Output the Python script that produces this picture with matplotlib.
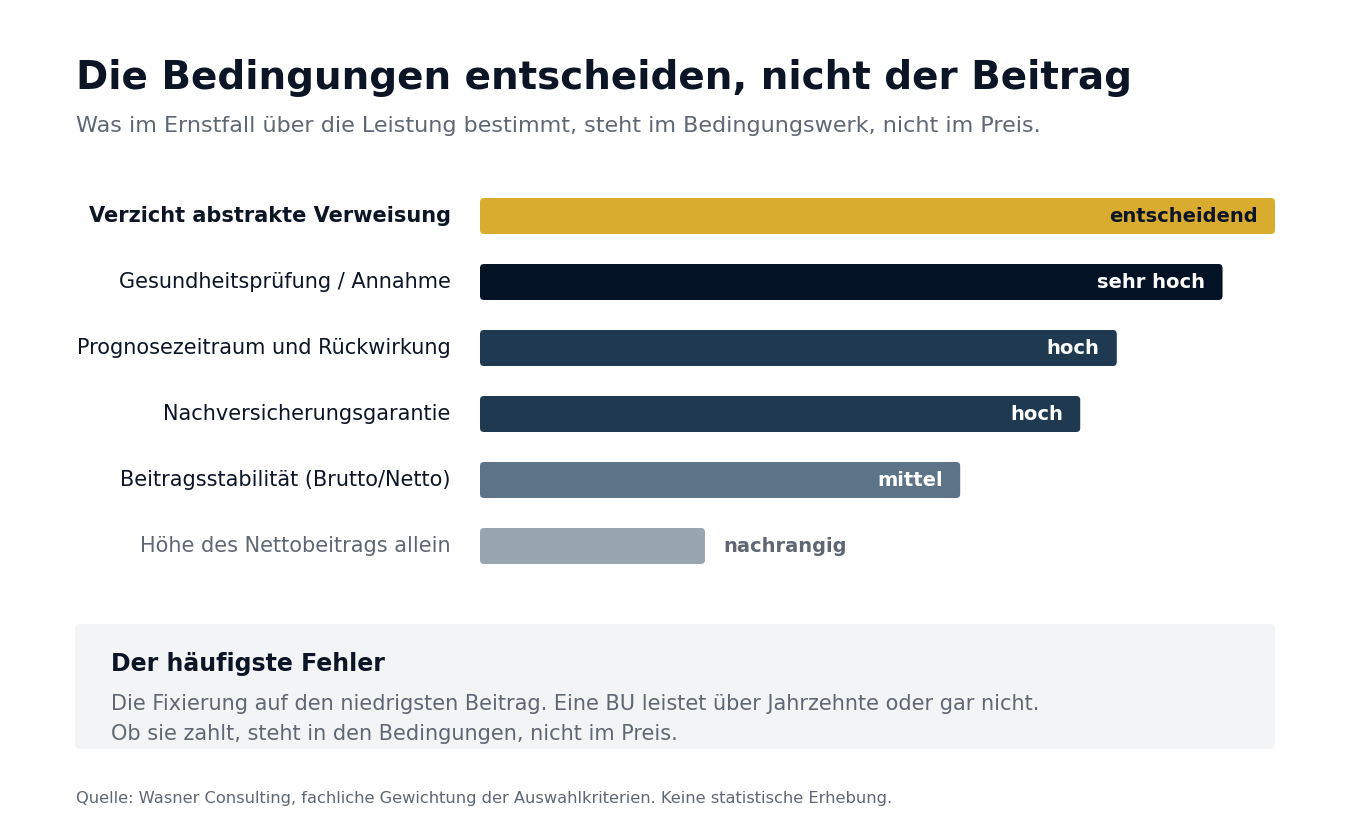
import matplotlib.pyplot as plt
import matplotlib
from matplotlib.patches import FancyBboxPatch

matplotlib.rcParams['font.family'] = ['DejaVu Sans']

W, H = 1350, 840

# --- data ---
criteria = ['Verzicht abstrakte Verweisung', 'Gesundheitsprüfung / Annahme',
            'Prognosezeitraum und Rückwirkung', 'Nachversicherungsgarantie',
            'Beitragsstabilität (Brutto/Netto)', 'Höhe des Nettobeitrags allein']
weights = [100, 93.4, 80.1, 75.5, 60.4, 28.3]
ratings = ['entscheidend', 'sehr hoch', 'hoch', 'hoch', 'mittel', 'nachrangig']

bar_colors = ['#D9AC2F', '#041226', '#1E3950', '#1E3950', '#5D7387', '#9AA6AF']
value_colors = ['#0B1525', 'white', 'white', 'white', 'white', '#5E6773']
dark = '#0B1525'
grey = '#5E6773'

fig = plt.figure(figsize=(W / 100, H / 100), dpi=100)

def fx(px):
    return px / W

def fy(py):
    return 1 - py / H

# --- bar axes (pixel-aligned) ---
ax_left, ax_right = 480, 1275
ax_top, ax_bot = 183, 579
ax = fig.add_axes([fx(ax_left), fy(ax_bot), fx(ax_right - ax_left), (ax_bot - ax_top) / H])
ax.set_xlim(0, 100)
ax.set_ylim(len(criteria) - 0.5, -0.5)
ax.axis('off')

bar_h = 36 / 66
x_per_px = 100 / (ax_right - ax_left)
y_per_px = 1 / 66
aspect = y_per_px / x_per_px
r = 4 * x_per_px

for i, (w, c) in enumerate(zip(weights, bar_colors)):
    p = FancyBboxPatch((0, i - bar_h / 2), w, bar_h,
                       boxstyle=f'round,pad=0,rounding_size={r}',
                       mutation_aspect=aspect, facecolor=c, edgecolor='none')
    ax.add_patch(p)

    # value label: inside the bar, except for the short last one
    if i < len(weights) - 1:
        ax.annotate(ratings[i], xy=(w, i), xytext=(-12.5, -0.5), textcoords='offset points',
                    ha='right', va='center', fontsize=14, fontweight='bold',
                    color=value_colors[i])
    else:
        ax.annotate(ratings[i], xy=(w, i), xytext=(13, -0.5), textcoords='offset points',
                    ha='left', va='center', fontsize=14, fontweight='bold',
                    color=value_colors[i])

    # category label
    ax.annotate(criteria[i], xy=(0, i), xytext=(-21, 0), textcoords='offset points',
                ha='right', va='center', fontsize=15,
                fontweight='bold' if i == 0 else 'normal',
                color=grey if i == len(criteria) - 1 else dark)

# --- titles ---
fig.text(fx(76), fy(89), 'Die Bedingungen entscheiden, nicht der Beitrag',
         fontsize=28, fontweight='bold', color=dark, va='baseline')
fig.text(fx(76), fy(132), 'Was im Ernstfall über die Leistung bestimmt, steht im Bedingungswerk, nicht im Preis.',
         fontsize=16, color=grey, va='baseline')

# --- callout box ---
box = FancyBboxPatch((fx(75), fy(749)), fx(1200), (749 - 624) / H,
                     boxstyle='round,pad=0,rounding_size=0.004',
                     mutation_aspect=W / H,
                     transform=fig.transFigure, facecolor='#F3F4F6', edgecolor='none')
fig.patches.append(box)
fig.text(fx(111), fy(671), 'Der häufigste Fehler', fontsize=17, fontweight='bold',
         color=dark, va='baseline')
fig.text(fx(111), fy(710), 'Die Fixierung auf den niedrigsten Beitrag. Eine BU leistet über Jahrzehnte oder gar nicht.',
         fontsize=15, color=grey, va='baseline')
fig.text(fx(111), fy(740), 'Ob sie zahlt, steht in den Bedingungen, nicht im Preis.',
         fontsize=15, color=grey, va='baseline')

# --- source ---
fig.text(fx(76), fy(803), 'Quelle: Wasner Consulting, fachliche Gewichtung der Auswahlkriterien. Keine statistische Erhebung.',
         fontsize=11.7, color=grey, va='baseline')

fig.savefig('out.png', dpi=100, facecolor='white')
